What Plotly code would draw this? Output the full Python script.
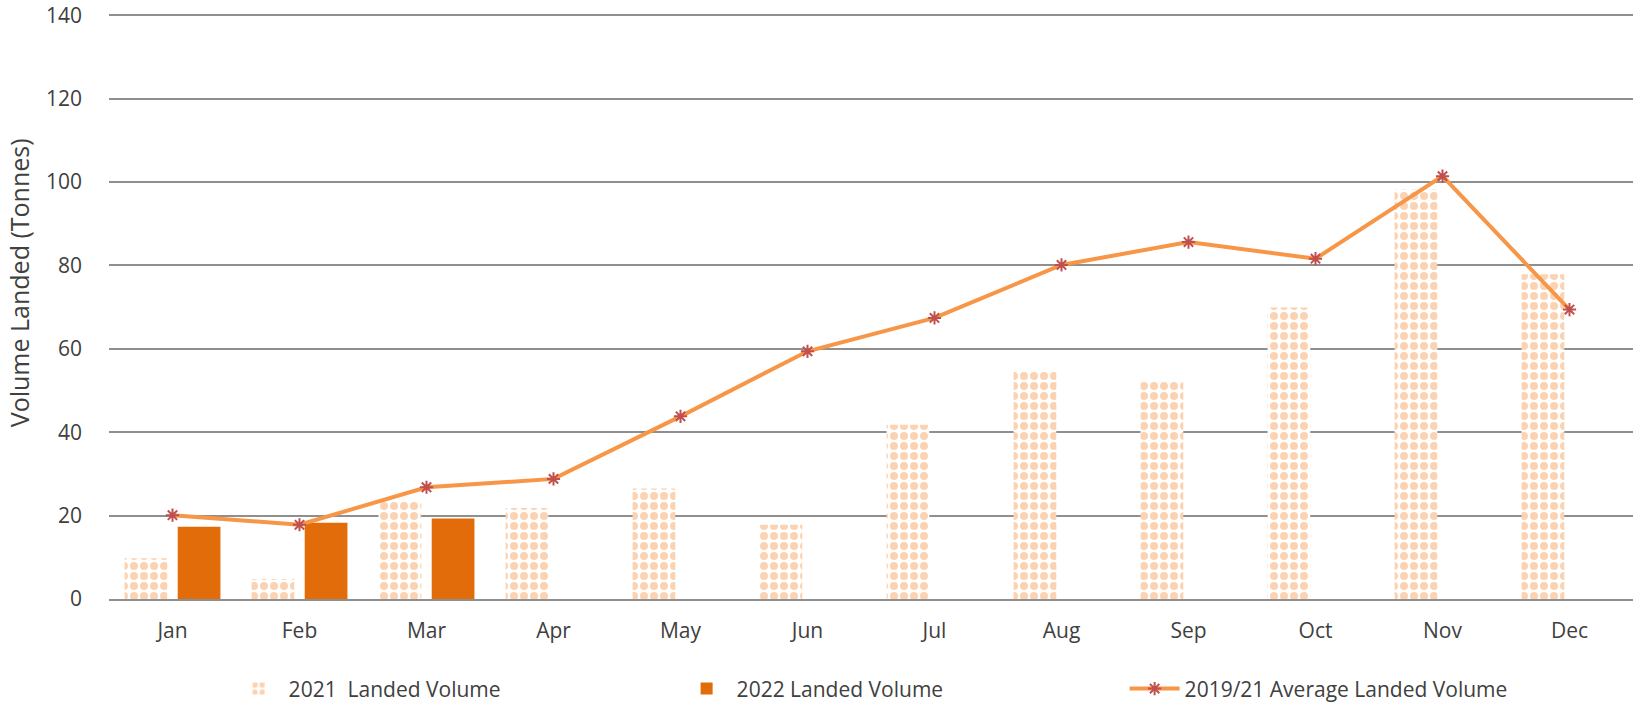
import plotly.graph_objects as go

months = ["Jan", "Feb", "Mar", "Apr", "May", "Jun", "Jul", "Aug", "Sep", "Oct", "Nov", "Dec"]
landed_2021 = [9.8, 4.8, 23.5, 21.8, 26.5, 17.8, 41.8, 54.8, 52.3, 69.9, 98.2, 77.9]
landed_2022 = [17.3, 18.3, 19.3, None, None, None, None, None, None, None, None, None]
avg_2019_21 = [20.1, 17.8, 26.8, 28.8, 43.8, 59.4, 67.4, 80.1, 85.6, 81.6, 101.4, 69.4]
y_ticks = [0, 20, 40, 60, 80, 100, 120, 140]

font_main = "Open Sans, DejaVu Sans, sans-serif"
text_col = "#404040"
grid_col = "#8f8f8f"

fig = go.Figure()
fig.add_trace(go.Bar(
    x=months, y=landed_2021, name="2021  Landed Volume",
    marker=dict(color="#ffffff", line=dict(width=0),
                pattern=dict(shape=".", fgcolor="#FCD3B2", bgcolor="#ffffff",
                             size=10, solidity=0.5, fillmode="replace")),
))
fig.add_trace(go.Bar(
    x=months, y=landed_2022, name="2022 Landed Volume",
    marker=dict(color="#E36C0A", line=dict(width=0)),
))
fig.add_trace(go.Scatter(
    x=months, y=avg_2019_21, name="2019/21 Average Landed Volume",
    mode="lines+markers",
    line=dict(color="#F79646", width=4),
    marker=dict(symbol="asterisk-open", size=11, color="#C0504D",
                line=dict(color="#C0504D", width=2)),
))

fig.update_layout(
    width=1633, height=703,
    paper_bgcolor="white", plot_bgcolor="white",
    margin=dict(l=109, r=0, t=11, b=104, autoexpand=False),
    barmode="group", bargap=0.163, bargroupgap=0.196,
    font=dict(family=font_main, size=21, color=text_col),
    showlegend=True,
    legend=dict(orientation="h", xref="container", yref="container",
                x=0.14, y=0.02, xanchor="left", yanchor="middle",
                itemwidth=50,
                entrywidth=383, entrywidthmode="pixels",
                font=dict(family=font_main, size=21, color=text_col),
                traceorder="normal"),
    annotations=[dict(text="Volume Landed (Tonnes)", textangle=-90,
                      xref="paper", yref="paper", x=0, y=0.537,
                      xanchor="center", yanchor="middle", xshift=-90,
                      showarrow=False,
                      font=dict(family=font_main, size=25, color=text_col))],
)
fig.update_xaxes(
    range=[-0.5, 11.5],
    showgrid=False, showline=True, linecolor=grid_col, linewidth=2,
    ticks="", ticklabelstandoff=12,
    tickfont=dict(family=font_main, size=21, color=text_col),
)
fig.update_yaxes(
    range=[0, 141], tickvals=y_ticks,
    showgrid=True, gridcolor=grid_col, gridwidth=2,
    zeroline=False, showline=False, ticks="", ticklabelstandoff=26,
    tickfont=dict(family=font_main, size=21, color=text_col),
    automargin=False,
)

fig.write_html("out.html", config={"displayModeBar": False},
               post_script="document.body.style.margin='0';document.body.style.padding='0';")
